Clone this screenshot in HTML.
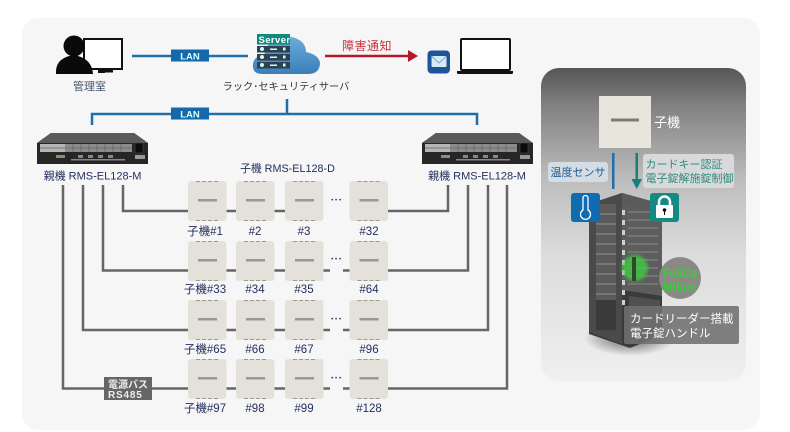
<!DOCTYPE html>
<html><head><meta charset="utf-8"><style>
html,body{margin:0;padding:0;background:#fff;width:790px;height:432px;overflow:hidden}
svg{display:block}
text{font-family:"Liberation Sans","Noto Sans CJK JP",sans-serif}
</style></head><body>
<svg width="790" height="432" viewBox="0 0 790 432" xmlns="http://www.w3.org/2000/svg">
<defs>
<linearGradient id="pg" x1="0" y1="0" x2="0" y2="1"><stop offset="0" stop-color="#565656"/><stop offset=".12" stop-color="#818181"/><stop offset=".35" stop-color="#bcbcbc"/><stop offset=".6" stop-color="#dcdcdc"/><stop offset="1" stop-color="#f0f0f0"/></linearGradient>
<linearGradient id="cl" x1="0" y1="0" x2="0" y2="1"><stop offset="0" stop-color="#6aaede"/><stop offset="1" stop-color="#3c7fb8"/></linearGradient>
<radialGradient id="sh"><stop offset="0" stop-color="#222" stop-opacity=".7"/><stop offset="1" stop-color="#222" stop-opacity="0"/></radialGradient>
<filter id="bl"><feGaussianBlur stdDeviation="1.500"/></filter>
<g id="sl"><rect x="0" y="0" width="38.500" height="40" rx="3" fill="#e4e1db"/><rect x="10" y="18" width="19" height="2.500" fill="#9a9794"/><path d="M8 0.500H31M8 39.500H31" stroke="#9a9a94" stroke-width="1" stroke-dasharray="4 2"/></g>
<g id="sw"><path d="M0 13L14 3H97L111 13V34H0Z" fill="#262626"/><path d="M0 13L14 3H97L111 13Z" fill="#5a5a5a"/><rect x="3" y="14" width="92" height="8" fill="#8c8c8c"/><rect x="3" y="14" width="25" height="8" fill="#b5b5b5"/><path d="M36 14V22M44 14V22M52 14V22M60 14V22M68 14V22M76 14V22M84 14V22M3 18H95" stroke="#666" stroke-width=".7"/><rect x="98" y="13" width="8" height="10" fill="#0c0c0c" stroke="#555" stroke-width=".5"/><rect x="19" y="25" width="9" height="3" fill="#8d8d70"/><g fill="#888"><rect x="41" y="25" width="5" height="3"/><rect x="51" y="25" width="5" height="3"/><rect x="61" y="25" width="5" height="3"/><rect x="71" y="25" width="5" height="3"/><rect x="34" y="29" width="54" height="1.500"/></g><rect x="98" y="25" width="10" height="4" fill="#999"/></g>
</defs>
<rect width="790" height="432" fill="#fff"/>
<rect x="22" y="18" width="738" height="412" rx="16" fill="#f6f6f6"/>

<!-- Top LAN -->
<path d="M132 56H248" stroke="#1f6fab" stroke-width="2.500" fill="none"/>
<rect x="171" y="49.500" width="38" height="12" fill="#1468ac"/>
<text x="190" y="59.300" text-anchor="middle" fill="#dff" font-size="9.500" font-weight="bold">LAN</text>
<path d="M92 125V114H477V125M287 99V114" stroke="#1f6fab" stroke-width="2.500" fill="none"/>
<rect x="171" y="107.500" width="38" height="12" fill="#1468ac"/>
<text x="190" y="117.300" text-anchor="middle" fill="#dff" font-size="9.500" font-weight="bold">LAN</text>

<!-- admin -->
<rect x="84" y="39" width="38" height="30" fill="#fff" stroke="#111" stroke-width="2"/>
<rect x="98" y="69" width="7" height="4" fill="#111"/><rect x="98" y="70" width="15" height="2.500" fill="#111"/>
<circle cx="74" cy="46" r="10.500" fill="#0a0a0a"/>
<path d="M56 74Q55 60 69 56H78Q92 60 93 74Z" fill="#0a0a0a"/>
<text x="89.500" y="90" text-anchor="middle" font-size="11" fill="#44566e">管理室</text>

<!-- server -->
<path d="M262 74Q252 74 253 64Q254 56 264 55L270 40Q280 33 295 38Q306 42 306 52Q320 55 320 64Q319 74 308 74Z" fill="url(#cl)"/>
<rect x="257" y="34" width="33" height="10.500" fill="#118a7e"/>
<text x="258.500" y="43" fill="#fff" font-size="9.500" font-weight="bold" letter-spacing=".4">Server</text>
<g fill="#2e4153"><rect x="257" y="46" width="33" height="6.500"/><rect x="257" y="54" width="33" height="6.500"/><rect x="257" y="62" width="33" height="6.500"/></g>
<g fill="#cfe"><circle cx="262" cy="49" r="2"/><circle cx="262" cy="57" r="2"/><circle cx="262" cy="65" r="2"/><rect x="270" y="48.500" width="7" height="1.500"/><rect x="270" y="56.500" width="7" height="1.500"/><rect x="270" y="64.500" width="7" height="1.500"/><rect x="283" y="47.500" width="2.500" height="3"/><rect x="283" y="55.500" width="2.500" height="3"/><rect x="283" y="63.500" width="2.500" height="3"/></g>
<text x="286" y="90" text-anchor="middle" fill="#333" font-size="10.200">ラック･セキュリティサーバ</text>

<!-- alert -->
<text x="367" y="50" text-anchor="middle" font-size="12" fill="#c8323c" letter-spacing=".5">障害通知</text>
<path d="M325 56H409" stroke="#b5172b" stroke-width="2.500"/><path d="M408 50L418 56L408 62Z" fill="#b5172b"/>
<rect x="427.500" y="50.500" width="22.500" height="23" rx="4" fill="#1f5499"/>
<rect x="431.500" y="56" width="15" height="11" rx="1" fill="#d8eaf5"/>
<path d="M431.500 56L439 63L446.500 56" stroke="#7fa6c8" fill="none"/>
<rect x="461" y="39" width="49" height="31" rx="1" fill="#fff" stroke="#111" stroke-width="2"/>
<path d="M457 71H513V73Q513 74 511 74H459Q457 74 457 73Z" fill="#111"/>

<!-- switches -->
<use href="#sw" x="37" y="130"/>
<use href="#sw" x="422" y="130"/>
<text x="92.500" y="179.500" text-anchor="middle" fill="#24305f" font-size="11">親機 RMS-EL128-M</text>
<text x="477" y="179.500" text-anchor="middle" fill="#24305f" font-size="11">親機 RMS-EL128-M</text>
<text x="287.500" y="172" text-anchor="middle" fill="#24305f" font-size="10.800">子機 RMS-EL128-D</text>

<!-- wires -->
<g fill="none" stroke="#666" stroke-width="2.500">
<path d="M123 185V211H448V185"/>
<path d="M103 185V270.500H468V185"/>
<path d="M83 185V330H488V185"/>
<path d="M63 185V388.500H507V185"/>
</g>
<g fill="#f6f6f6"><rect x="323" y="205" width="27" height="12"/><rect x="330" y="264" width="13" height="12"/><rect x="330" y="324" width="13" height="12"/><rect x="330" y="382" width="13" height="12"/></g>
<rect x="104" y="377" width="48" height="23" fill="#666"/>
<text x="108" y="388" fill="#eee" font-size="10" font-weight="bold">電源バス</text>
<text x="108" y="398" fill="#eee" font-size="10" font-weight="bold" letter-spacing=".8">RS485</text>

<!-- slaves -->
<g>
<use href="#sl" x="188" y="181"/><use href="#sl" x="236" y="181"/><use href="#sl" x="285" y="181"/><use href="#sl" x="349.500" y="181"/>
<use href="#sl" x="188" y="241"/><use href="#sl" x="236" y="241"/><use href="#sl" x="285" y="241"/><use href="#sl" x="349.500" y="241"/>
<use href="#sl" x="188" y="300"/><use href="#sl" x="236" y="300"/><use href="#sl" x="285" y="300"/><use href="#sl" x="349.500" y="300"/>
<use href="#sl" x="188" y="359"/><use href="#sl" x="236" y="359"/><use href="#sl" x="285" y="359"/><use href="#sl" x="349.500" y="359"/>
</g>
<g fill="#24305f" font-size="6" text-anchor="middle" letter-spacing="1.800">
<text x="337" y="202">•••</text><text x="337" y="261">•••</text><text x="337" y="321">•••</text><text x="337" y="380">•••</text>
</g>
<g text-anchor="middle" fill="#24305f" font-size="11.500">
<text x="205" y="235">子機#1</text><text x="255" y="235">#2</text><text x="304" y="235">#3</text><text x="369" y="235">#32</text>
<text x="205" y="293">子機#33</text><text x="255" y="293">#34</text><text x="304" y="293">#35</text><text x="369" y="293">#64</text>
<text x="205" y="353">子機#65</text><text x="255" y="353">#66</text><text x="304" y="353">#67</text><text x="369" y="353">#96</text>
<text x="205" y="412">子機#97</text><text x="255" y="412">#98</text><text x="304" y="412">#99</text><text x="369" y="412">#128</text>
</g>

<!-- right panel -->
<rect x="541" y="68" width="205" height="313" rx="18" fill="url(#pg)"/>
<rect x="599" y="96" width="52" height="52" fill="#e8e5dc"/>
<rect x="611" y="118.500" width="28" height="3" fill="#7d7a76"/>
<text x="654" y="127" fill="#fff" font-size="13">子機</text>
<rect x="612" y="153" width="2.500" height="36" fill="#1f6fab"/>
<rect x="635.500" y="153" width="2.500" height="27" fill="#148077"/>
<path d="M631.500 179H642L636.800 189Z" fill="#148077"/>
<rect x="548" y="162" width="60" height="20" rx="3" fill="#d4dce4"/>
<text x="550.500" y="176" font-size="11" fill="#1d5c96">温度センサ</text>
<rect x="643" y="154" width="91" height="34" rx="3" fill="#d9d9d9"/>
<text x="645.500" y="168" font-size="11" fill="#2f8a80">カードキー認証</text>
<text x="645.500" y="182" font-size="11" fill="#2f8a80">電子錠解施錠制御</text>

<!-- rack -->
<ellipse cx="630" cy="338" rx="46" ry="18" fill="url(#sh)"/>
<path d="M589 204L622 193L662 204V335L630 348L589 334Z" fill="#3a3a3a"/>
<path d="M589 204L622 193V344L589 332Z" fill="#4a4a4a"/>
<path d="M596 204H616V330H596Z" fill="#5b5b5b"/>
<path d="M622 193L662 204V215L622 207Z" fill="#5a5a5a"/>
<path d="M622 205L662 213V296L622 290Z" fill="#5d5d5d"/>
<g stroke="#8a8a8a" stroke-width="1"><path d="M628 212H658M628 220H658M628 228H658M628 236H658M628 244H658M628 252H658M628 260H658M628 268H658M628 276H658M628 284H658"/></g>
<g stroke="#808080" stroke-width="1.500"><path d="M596 214H616M596 224H616M596 234H616M596 244H616M596 254H616M596 264H616M596 274H616M596 284H616M596 294H616"/></g>
<g fill="#cfcfcf"><rect x="622" y="210" width="3" height="5"/><rect x="622" y="220" width="3" height="5"/><rect x="622" y="230" width="3" height="5"/><rect x="622" y="240" width="3" height="5"/><rect x="622" y="250" width="3" height="5"/><rect x="622" y="260" width="3" height="5"/><rect x="622" y="270" width="3" height="5"/><rect x="622" y="280" width="3" height="5"/><rect x="622" y="290" width="3" height="5"/><rect x="622" y="300" width="3" height="5"/></g>
<rect x="596" y="300" width="20" height="30" fill="#3a3a3a"/>
<path d="M629 345L660 330V300L629 296Z" fill="#505050"/>
<circle cx="635" cy="268" r="13" fill="#3fd23f" opacity=".75" filter="url(#bl)"/>
<rect x="632" y="257" width="4" height="24" fill="#2a4a2a"/>

<circle cx="680" cy="278" r="21" fill="#8d8888"/>
<text x="680" y="277" text-anchor="middle" font-size="11.500" font-weight="bold" fill="#2fd32f">FeliCa</text>
<text x="680" y="291" text-anchor="middle" font-size="11.500" font-weight="bold" fill="#2fd32f">Mifare</text>
<rect x="624" y="306" width="115" height="38" rx="2" fill="#6f6f6f" fill-opacity=".88"/>
<text x="630" y="322.500" font-size="11.500" fill="#fff">カードリーダー搭載</text>
<text x="630" y="337" font-size="11.500" fill="#fff">電子錠ハンドル</text>

<!-- icons -->
<rect x="571" y="193" width="29" height="29" rx="3" fill="#0f6cb0"/>
<path d="M583 198a2.500 2.500 0 0 1 5 0V210a5 5 0 1 1-5 0Z" fill="none" stroke="#fff" stroke-width="1.300"/>
<rect x="650" y="193" width="29" height="29" rx="3" fill="#148a84"/>
<path d="M659 205V202a5.500 5.500 0 0 1 11 0V205" fill="none" stroke="#fff" stroke-width="2.500"/>
<rect x="656" y="205" width="17" height="13" rx="1" fill="#fff"/>
<circle cx="664.500" cy="210" r="1.800" fill="#111"/><rect x="664" y="210" width="1" height="5" fill="#111"/>
</svg>
</body></html>
